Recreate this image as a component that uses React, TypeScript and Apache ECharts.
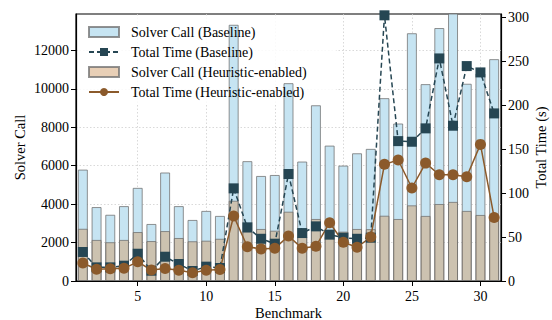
import React, { useEffect, useRef } from "react";
import * as echarts from "echarts";

const benchmarks = [1, 2, 3, 4, 5, 6, 7, 8, 9, 10, 11, 12, 13, 14, 15, 16, 17, 18, 19, 20, 21, 22, 23, 24, 25, 26, 27, 28, 29, 30, 31];
const baselineCalls = [5800, 3850, 3450, 3900, 4850, 2970, 5650, 3900, 3180, 3650, 3390, 13340, 6240, 5470, 5520, 10300, 6220, 9150, 7050, 6010, 6650, 6880, 9520, 8200, 12900, 10250, 13170, 14300, 10270, 10800, 11550];
const heuristicCalls = [2720, 2140, 2020, 2140, 2550, 2080, 2600, 2240, 2070, 2100, 2200, 4180, 2570, 2710, 2620, 3610, 2310, 3230, 2300, 2570, 2710, 2700, 3400, 3230, 3940, 3390, 4010, 4120, 3650, 3440, 3210];
const baselineTime = [33, 15.5, 15.5, 17.4, 31, 11.7, 27.6, 19.3, 11.4, 16.3, 14.8, 105.3, 61, 48, 42.4, 121.6, 54.5, 62.1, 52.7, 49.2, 48, 49.2, 302, 159, 158.3, 173.5, 253, 176.5, 244.3, 237.1, 190.5];
const heuristicTime = [20.5, 13.3, 14, 14.4, 21.8, 12.5, 14.2, 12.2, 9.5, 12.2, 13, 73.9, 39, 36.4, 37.1, 51.1, 37.1, 39.4, 66.3, 44, 38.3, 50, 132.6, 137.5, 105.7, 134, 120.8, 120.8, 118.5, 155.3, 72.3];
const xTicks = [5, 10, 15, 20, 25, 30];
const leftTicks = [0, 2000, 4000, 6000, 8000, 10000, 12000];
const rightTicks = [0, 50, 100, 150, 200, 250, 300];
const names = [
  "Solver Call (Baseline)",
  "Total Time (Baseline)",
  "Solver Call (Heuristic-enabled)",
  "Total Time (Heuristic-enabled)",
];

const FONT = "Liberation Serif";

export default function App() {
  const ref = useRef<HTMLDivElement>(null);
  useEffect(() => {
    document.body.style.margin = "0";
    if (!ref.current) return;
    const chart = echarts.init(ref.current, null, { renderer: "svg" });
    const pair = (arr: number[]) => arr.map((v, i) => [benchmarks[i], v]);
    const textStyle = { fontFamily: FONT, fontSize: 14, color: "#000" };
    const plain = (v: number) => String(v);
    const barBorder = "rgba(110,110,110,0.75)";
    chart.setOption({
      animation: false,
      textStyle: { fontFamily: FONT },
      grid: {
        left: 76,
        right: 51,
        top: 14,
        bottom: 39,
        show: true,
        borderColor: "#000",
        borderWidth: 1.2,
        containLabel: false,
        outerBoundsMode: "none",
      },
      graphic: [
        {
          type: "rect",
          z: 1,
          silent: true,
          shape: { x: 78, y: 17, width: 258, height: 88 },
          style: { fill: "rgba(255,255,255,0.85)" },
        },
      ],
      legend: {
        orient: "vertical",
        left: 88,
        top: 25,
        padding: 0,
        itemWidth: 30,
        itemHeight: 10,
        itemGap: 6,
        z: 4,
        textStyle: { ...textStyle, lineHeight: 14, padding: [0, 0, 0, 7] },
        data: [
          { name: names[0], icon: "rect" },
          { name: names[1] },
          { name: names[2], icon: "rect" },
          { name: names[3] },
        ],
      },
      xAxis: {
        type: "value",
        min: 0.5,
        max: 31.5,
        name: "Benchmark",
        nameLocation: "middle",
        nameGap: 24,
        nameMoveOverlap: false,
        nameTextStyle: { ...textStyle, fontSize: 14.5 },
        axisLine: { show: true, onZero: false, lineStyle: { color: "#000", width: 1.2 } },
        axisTick: { show: true, length: 5, customValues: xTicks, lineStyle: { color: "#000" } },
        axisLabel: { ...textStyle, margin: 8, customValues: xTicks, formatter: plain },
        splitLine: { show: true, lineStyle: { color: "#cfcfcf", type: [1.5, 2], width: 0.8 } },
      },
      yAxis: [
        {
          type: "value",
          min: 0,
          max: 13900,
          name: "Solver Call",
          nameLocation: "middle",
          nameGap: 49,
          nameMoveOverlap: false,
          nameTextStyle: { ...textStyle, fontSize: 14.5 },
          axisLine: { show: true, lineStyle: { color: "#000", width: 1.2 } },
          axisTick: { show: true, length: 5, customValues: leftTicks, lineStyle: { color: "#000" } },
          axisLabel: { ...textStyle, margin: 7, customValues: leftTicks, formatter: plain },
          splitLine: { show: true, lineStyle: { color: "#cfcfcf", type: [1.5, 2], width: 0.8 } },
        },
        {
          type: "value",
          min: 0,
          max: 303.5,
          position: "right",
          name: "Total Time (s)",
          nameLocation: "middle",
          nameGap: 32,
          nameMoveOverlap: false,
          nameTextStyle: { ...textStyle, fontSize: 14.5 },
          axisLine: { show: true, lineStyle: { color: "#000", width: 1.2 } },
          axisTick: { show: true, length: 5, customValues: rightTicks, lineStyle: { color: "#000" } },
          axisLabel: { ...textStyle, margin: 7, customValues: rightTicks, formatter: plain },
          splitLine: { show: false },
        },
      ],
      series: [
        {
          name: names[0],
          type: "bar",
          yAxisIndex: 0,
          data: pair(baselineCalls),
          barWidth: 10,
          barGap: "-100%",
          z: 2,
          itemStyle: { color: "#c6e4f2", borderColor: barBorder, borderWidth: 1 },
        },
        {
          name: names[1],
          type: "line",
          yAxisIndex: 1,
          data: pair(baselineTime),
          symbol: "rect",
          symbolSize: 10,
          z: 3,
          lineStyle: { color: "#264653", width: 1.5, type: [5, 3] },
          itemStyle: { color: "#264653" },
        },
        {
          name: names[2],
          type: "bar",
          yAxisIndex: 0,
          data: pair(heuristicCalls),
          barWidth: 10,
          barGap: "-100%",
          z: 2,
          itemStyle: { color: "rgba(210,160,110,0.5)", borderColor: barBorder, borderWidth: 1 },
        },
        {
          name: names[3],
          type: "line",
          yAxisIndex: 1,
          data: pair(heuristicTime),
          symbol: "circle",
          symbolSize: 11,
          z: 3,
          lineStyle: { color: "#8B5A2B", width: 1.5 },
          itemStyle: { color: "#8B5A2B" },
        },
      ],
    });
    return () => chart.dispose();
  }, []);
  return <div ref={ref} style={{ width: 552, height: 320 }} />;
}
